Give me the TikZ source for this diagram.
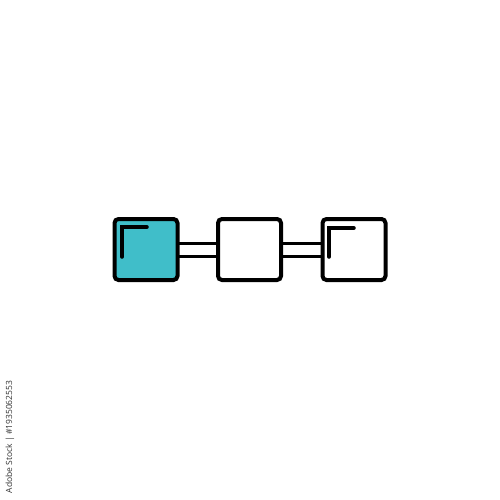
\documentclass[tikz,border=0pt]{standalone}
\usepackage{fontspec}
\setmainfont{Open Sans}
\definecolor{teal1}{RGB}{64,190,201}
\tikzset{
  blk/.style={draw=black, line width=4pt, rounded corners=4pt, minimum width=63pt, minimum height=61pt, inner sep=0pt, outer sep=0pt},
  link/.style={draw=black, line width=3pt},
  mark/.style={}, 
  cornermark/.style={draw=black, line width=3.5pt, line cap=round}
}
\begin{document}
\begin{tikzpicture}[x=1pt,y=-1pt]
\useasboundingbox[fill=white] (0,0) rectangle (500,500);
\node[blk, fill=teal1] (b1) at (146,249.5) {};
\node[blk, fill=white] (b2) at (249.5,249.5) {};
\node[blk, fill=white] (b3) at (354,249.5) {};
\draw[link] ([yshift=6.5pt]b1.east) -- ([yshift=6.5pt]b2.west);
\draw[link] ([yshift=-6.5pt]b1.east) -- ([yshift=-6.5pt]b2.west);
\draw[link] ([yshift=6.5pt]b2.east) -- ([yshift=6.5pt]b3.west);
\draw[link] ([yshift=-6.5pt]b2.east) -- ([yshift=-6.5pt]b3.west);
\draw[cornermark] ([xshift=-24pt,yshift=-7.5pt]b1.center) -- ([xshift=-24pt,yshift=22.5pt]b1.center) -- ([xshift=1pt,yshift=22.5pt]b1.center);
\draw[cornermark] ([xshift=-25pt,yshift=-7.5pt]b3.center) -- ([xshift=-25pt,yshift=21.5pt]b3.center) -- ([xshift=0pt,yshift=21.5pt]b3.center);
\node[rotate=90, font=\fontsize{8.5}{10}\selectfont, text=black!80, inner sep=0pt] (wm) at (10,437) {Adobe Stock | \#1935062553};
\end{tikzpicture}
\end{document}
